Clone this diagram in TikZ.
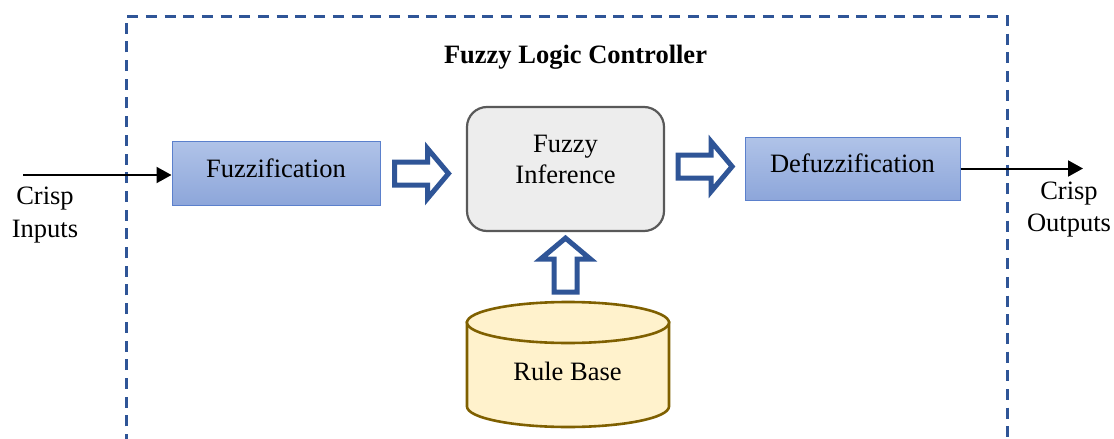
\documentclass[tikz,border=0pt]{standalone}
\usepackage{fontspec}
\setmainfont{Liberation Serif}
\usetikzlibrary{arrows.meta,calc}

\definecolor{frameblue}{HTML}{2F5597}
\definecolor{procborder}{HTML}{5B80CC}
\definecolor{proctop}{HTML}{B0C3E8}
\definecolor{procbot}{HTML}{8DA6DA}
\definecolor{inffill}{HTML}{EDEDED}
\definecolor{infborder}{HTML}{595959}
\definecolor{dbfill}{HTML}{FFF2CC}
\definecolor{dbborder}{HTML}{7F6000}

\tikzset{
  txt/.style={inner sep=0pt, align=center, font=\fontsize{26.5}{31}\selectfont},
  procbox/.style={draw=procborder, line width=1pt, top color=proctop, bottom color=procbot,
    inner sep=0pt, text height=18pt, text depth=10pt, font=\fontsize{26.5}{31}\selectfont},
  infbox/.style={draw=infborder, line width=2.2pt, fill=inffill, rounded corners=20pt,
    minimum width=197pt, minimum height=124pt},
  dbshape/.style={draw=dbborder, line width=2.6pt, fill=dbfill},
  framebox/.style={draw=frameblue, line width=3pt, dash pattern=on 11pt off 7.7pt},
  signal/.style={line width=2pt, -{Triangle[length=15pt,width=16pt]}},
  hollowarrow/.style={draw=frameblue, line width=5pt, fill=white, miter limit=10},
  blockarrow/.pic={
    \path[hollowarrow] (0,-11.5) -- (33,-11.5) -- (33,-25) -- (54,0)
      -- (33,25) -- (33,11.5) -- (0,11.5) -- cycle;
  }
}

\begin{document}
\begin{tikzpicture}[x=1pt,y=-1pt]
\useasboundingbox (0,0) rectangle (1114,439);

% dashed controller frame, open at the bottom
\draw[framebox] (126,445) -- (126,16) -- (1007,16) -- (1007,445);
\node[txt, font=\fontsize{26.5}{31}\selectfont\bfseries] (title) at (575.5,57) {Fuzzy Logic Controller};

% processing stages
\node[procbox, minimum width=208pt, minimum height=64pt] (fuzz) at (276,173) {Fuzzification};
\node[infbox] (inf) at (565.5,169) {};
\node[txt] (inftxt) at (565.5,159) {Fuzzy\\Inference};
\node[procbox, minimum width=215pt, minimum height=63pt] (defuzz) at (852.5,168.5) {Defuzzification};

% rule base cylinder
\path[dbshape] (467,322.5) -- (467,406.5)
  arc[start angle=180, end angle=0, x radius=101, y radius=20.5]
  -- (669,322.5) -- cycle;
\draw[dbshape] (568,322.5) ellipse [x radius=101, y radius=20.5];
\coordinate (rbtop) at (568,302);
\node[txt] (rb) at (567.5,371) {Rule Base};

% crisp input and output signals
\node[txt, font=\fontsize{26.5}{33}\selectfont] (inlbl) at (45,214.6) {Crisp\\Inputs};
\node[txt, font=\fontsize{26.5}{32}\selectfont] (outlbl) at (1069,210) {Crisp\\Outputs};
\coordinate (inp) at (23,175);
\coordinate (outp) at (1083,168.5);
\draw[signal] (inp) -- (inp -| fuzz.west);
\draw[signal] (defuzz.east) -- (outp);

% hollow block arrows between stages
\pic at ($(fuzz.east)+(14,0.5)$) {blockarrow};
\pic at ($(inf.east)+(13,-2.5)$) {blockarrow};
\pic[rotate=90] at ($(inf.south)+(0,60)$) {blockarrow};
\end{tikzpicture}
\end{document}
